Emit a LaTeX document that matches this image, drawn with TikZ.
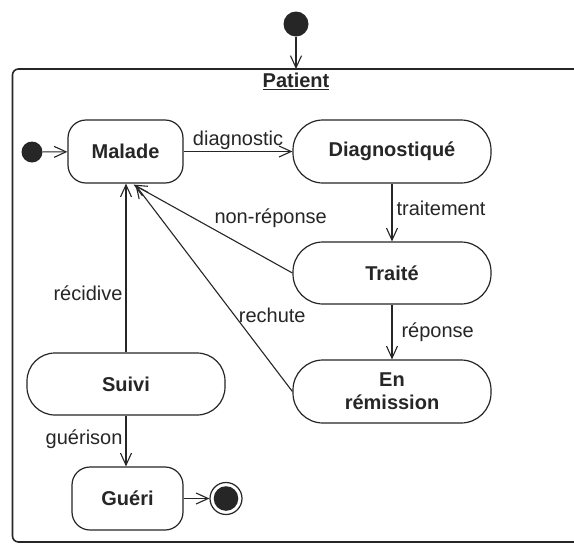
\documentclass[tikz,border=0pt]{standalone}
\usepackage{fontspec}
\setmainfont{Liberation Sans}
\usetikzlibrary{arrows.meta,calc}
\definecolor{ink}{HTML}{262626}
\begin{document}
\begin{tikzpicture}[x=1pt,y=-1pt,
  state/.style={draw=ink, line width=1.2pt, rectangle, rounded corners=#1,
    inner sep=0pt, text=ink, align=center,
    font=\fontsize{20}{23}\selectfont\bfseries},
  state/.default=18pt,
  pseudo/.style={circle, fill=ink, draw=none, inner sep=0pt, minimum size=#1},
  trans/.style={draw=ink, line width=1.1pt,
    -{Straight Barb[length=12pt,width=11pt,line width=1.1pt]}},
  lbl/.style={text=ink, font=\fontsize{20}{23}\selectfont},
  frame/.style={draw=ink, line width=1.6pt, rounded corners=6pt}
]
% page area
\clip (0,0) rectangle (574,547);
\fill[white] (0,0) rectangle (574,547);

% enclosing composite state
\draw[frame] (12.5,69) rectangle (600,542);
\node[lbl, font=\fontsize{20}{23}\selectfont\bfseries] (title) at (296,81) {\underline{Patient}};

% outer initial state
\node[pseudo=25pt] (init) at (296,24) {};
\coordinate (ftop) at (296,69);
\draw[trans] (init) -- (ftop);

% states
\node[state, minimum width=115pt, minimum height=63pt] (malade) at (125.5,151.5) {Malade};
\node[state=30pt, minimum width=198pt, minimum height=63pt] (diag) at (392,151.5) {Diagnostiqué};
\node[state=30pt, minimum width=198pt, minimum height=62pt] (traite) at (392,273) {Traité};
\node[state=30pt, minimum width=198pt, minimum height=63pt] (remission) at (392,391.5) {En\\rémission};
\node[state=28pt, minimum width=198pt, minimum height=62pt] (suivi) at (126,384) {Suivi};
\node[state, minimum width=111pt, minimum height=63pt] (gueri) at (127.5,498.5) {Guéri};

% inner initial and final states
\node[pseudo=21pt] (start) at (32,152) {};
\node[circle, draw=ink, line width=1.2pt, inner sep=0pt, minimum size=32pt] (fin) at (226,498.5) {};
\fill[ink] (fin.center) circle (12.3pt);

% transitions
\draw[trans] (start) -- (malade);
\draw[trans] (malade) -- node[lbl, midway, above, inner sep=1pt] {diagnostic} (diag);
\draw[trans] (diag) -- node[lbl, pos=0.42, right, inner sep=4pt] {traitement} (traite);
\draw[trans] (traite) -- node[lbl, pos=0.5, right, inner sep=9pt] {réponse} (remission);
\draw[trans] (traite.west) -- node[lbl, pos=0.5, anchor=south west, inner sep=1pt] {non-réponse}
  ($(malade.south)+(8,1)$);
\draw[trans] (remission.west) -- node[lbl, pos=0.37, right, inner sep=4pt] {rechute}
  ($(malade.south)+(10,1.5)$);
\draw[trans] (suivi.north) -- node[lbl, pos=0.35, left, inner sep=3pt] {récidive}
  (suivi.north |- malade.south);
\draw[trans] (suivi.south) -- node[lbl, pos=0.46, left, inner sep=3pt] {guérison}
  (suivi.south |- gueri.north);
\draw[trans] (gueri) -- (fin);
\end{tikzpicture}
\end{document}
